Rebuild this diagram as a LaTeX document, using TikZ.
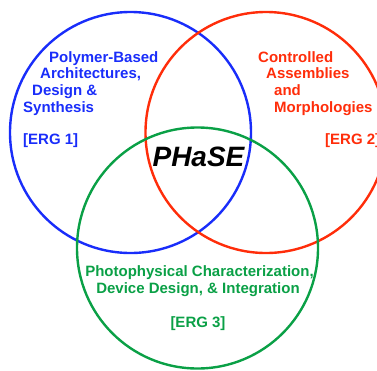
\documentclass[tikz,border=0pt]{standalone}
\usepackage{fontspec}
\setmainfont{Liberation Sans}
\definecolor{ergblue}{RGB}{25,45,250}
\definecolor{ergred}{RGB}{255,45,10}
\definecolor{erggreen}{RGB}{10,160,70}
\begin{document}
\begin{tikzpicture}[x=1pt,y=-1pt,
    ring/.style={line width=2.4pt},
    every node/.style={inner sep=0pt,anchor=base west,
      font=\fontsize{15}{17}\selectfont\bfseries}]
      \useasboundingbox (0,0) rectangle (377,370);
      \clip (0,0) rectangle (377,370);
      \draw[ring,ergblue] (130.5,132.5) circle (120.5pt);
      \draw[ring,ergred] (266,132.5) circle (120.5pt);
      \draw[ring,erggreen] (197.5,248) circle (120.5pt);
      % ERG 1
      \draw[ergblue]
        (49,62) node (b1){Polymer-Based}
        (40,78.5) node (b2){Architectures,}
        (32,95) node (b3){Design \&}
        (23,112) node (b4){Synthesis}
        (23,144) node (erg1){[ERG 1]};
      % ERG 2
      \draw[ergred]
        (258,62) node (r1){Controlled}
        (266,78.5) node (r2){Assemblies}
        (274,95) node (r3){and}
        (274,112) node (r4){Morphologies}
        (325,144) node (erg2){[ERG 2]};
      % ERG 3
      \draw[erggreen]
        (199.5,276) node[anchor=base] (g1){Photophysical Characterization,}
        (198,293) node[anchor=base] (g2){Device Design, \& Integration}
        (198,327) node[anchor=base] (erg3){[ERG 3]};
      \draw
        (198.5,166) node[anchor=base,font=\fontsize{28}{30}\selectfont\bfseries\itshape] (phase){PHaSE};
    \end{tikzpicture}
\end{document}
